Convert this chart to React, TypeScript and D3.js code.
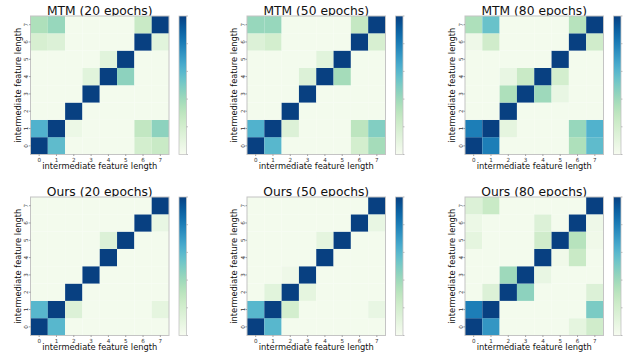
import React from "react";
import * as d3 from "d3";

// Attention-like 8x8 maps; each array is listed from feature length 0 (bottom row) up to 7 (top row).
const lengths = [0, 1, 2, 3, 4, 5, 6, 7];
const colorbarTicks = [0, 0.2, 0.4, 0.6, 0.8, 1.0];

const mtm20: number[][] = [
  [1.0, 0.58, 0.02, 0.02, 0.02, 0.02, 0.2, 0.25],
  [0.62, 1.0, 0.06, 0.02, 0.02, 0.02, 0.28, 0.45],
  [0.02, 0.02, 1.0, 0.02, 0.02, 0.02, 0.02, 0.02],
  [0.02, 0.02, 0.02, 1.0, 0.02, 0.02, 0.02, 0.02],
  [0.02, 0.02, 0.02, 0.12, 1.0, 0.45, 0.02, 0.02],
  [0.02, 0.02, 0.02, 0.02, 0.12, 1.0, 0.02, 0.02],
  [0.18, 0.15, 0.02, 0.02, 0.02, 0.02, 1.0, 0.12],
  [0.35, 0.42, 0.02, 0.02, 0.02, 0.02, 0.25, 1.0],
];

const mtm50: number[][] = [
  [1.0, 0.6, 0.02, 0.02, 0.02, 0.02, 0.2, 0.38],
  [0.62, 1.0, 0.15, 0.02, 0.02, 0.02, 0.3, 0.48],
  [0.02, 0.02, 1.0, 0.02, 0.02, 0.02, 0.02, 0.02],
  [0.02, 0.02, 0.02, 1.0, 0.02, 0.02, 0.02, 0.02],
  [0.02, 0.02, 0.02, 0.15, 1.0, 0.38, 0.02, 0.02],
  [0.02, 0.02, 0.02, 0.02, 0.12, 1.0, 0.02, 0.02],
  [0.15, 0.2, 0.02, 0.02, 0.02, 0.02, 1.0, 0.18],
  [0.42, 0.42, 0.02, 0.02, 0.02, 0.02, 0.27, 1.0],
];

const mtm80: number[][] = [
  [1.0, 0.8, 0.02, 0.02, 0.02, 0.02, 0.35, 0.58],
  [0.8, 1.0, 0.1, 0.02, 0.02, 0.02, 0.42, 0.62],
  [0.02, 0.02, 1.0, 0.02, 0.02, 0.02, 0.02, 0.02],
  [0.02, 0.02, 0.35, 1.0, 0.4, 0.08, 0.02, 0.02],
  [0.02, 0.02, 0.08, 0.25, 1.0, 0.2, 0.02, 0.02],
  [0.02, 0.02, 0.02, 0.02, 0.02, 1.0, 0.02, 0.02],
  [0.05, 0.22, 0.02, 0.02, 0.02, 0.02, 1.0, 0.22],
  [0.35, 0.55, 0.02, 0.02, 0.02, 0.02, 0.32, 1.0],
];

const ours20: number[][] = [
  [1.0, 0.6, 0.02, 0.02, 0.02, 0.02, 0.02, 0.02],
  [0.6, 1.0, 0.15, 0.02, 0.02, 0.02, 0.02, 0.1],
  [0.02, 0.02, 1.0, 0.02, 0.02, 0.02, 0.02, 0.02],
  [0.02, 0.02, 0.02, 1.0, 0.02, 0.02, 0.02, 0.02],
  [0.02, 0.02, 0.02, 0.02, 1.0, 0.02, 0.02, 0.02],
  [0.02, 0.02, 0.02, 0.02, 0.15, 1.0, 0.02, 0.02],
  [0.02, 0.02, 0.02, 0.02, 0.02, 0.02, 1.0, 0.08],
  [0.02, 0.02, 0.02, 0.02, 0.02, 0.02, 0.02, 1.0],
];

const ours50: number[][] = [
  [1.0, 0.6, 0.02, 0.02, 0.02, 0.02, 0.02, 0.02],
  [0.6, 1.0, 0.2, 0.02, 0.02, 0.02, 0.02, 0.08],
  [0.02, 0.12, 1.0, 0.1, 0.02, 0.02, 0.02, 0.02],
  [0.02, 0.02, 0.05, 1.0, 0.02, 0.02, 0.02, 0.02],
  [0.02, 0.02, 0.02, 0.02, 1.0, 0.02, 0.02, 0.02],
  [0.02, 0.02, 0.02, 0.02, 0.1, 1.0, 0.02, 0.02],
  [0.02, 0.02, 0.02, 0.02, 0.02, 0.02, 1.0, 0.08],
  [0.02, 0.02, 0.02, 0.02, 0.02, 0.02, 0.02, 1.0],
];

const ours80: number[][] = [
  [1.0, 0.72, 0.02, 0.02, 0.02, 0.02, 0.1, 0.22],
  [0.8, 1.0, 0.02, 0.02, 0.02, 0.02, 0.02, 0.5],
  [0.02, 0.15, 1.0, 0.45, 0.02, 0.02, 0.02, 0.15],
  [0.02, 0.02, 0.4, 1.0, 0.08, 0.02, 0.02, 0.02],
  [0.02, 0.02, 0.02, 0.02, 1.0, 0.04, 0.25, 0.02],
  [0.1, 0.02, 0.02, 0.02, 0.22, 1.0, 0.32, 0.04],
  [0.06, 0.02, 0.02, 0.02, 0.15, 0.02, 1.0, 0.05],
  [0.15, 0.25, 0.02, 0.02, 0.02, 0.02, 0.02, 1.0],
];

const titles = [
  "MTM (20 epochs)",
  "MTM (50 epochs)",
  "MTM (80 epochs)",
  "Ours (20 epochs)",
  "Ours (50 epochs)",
  "Ours (80 epochs)",
];
const matrices = [mtm20, mtm50, mtm80, ours20, ours50, ours80];
const axisLabel = "intermediate feature length";

const W = 625;
const H = 356;
const FONT = "DejaVu Sans, sans-serif";
const colLefts = [30.5, 247, 465];
const rowTops = [16, 197];
const SIZE = 138.5;
const CB_OFFSET = 148.5;
const CB_WIDTH = 7.5;
const SPINE = "#c4c4c4";

const color = d3.scaleSequential(d3.interpolateGnBu).domain([0, 1]);

function Panel({ left, top, title, data, idx }: { left: number; top: number; title: string; data: number[][]; idx: number }) {
  const x = d3.scaleBand<number>().domain(lengths).range([left, left + SIZE]);
  const y = d3.scaleBand<number>().domain(lengths).range([top + SIZE, top]);
  const cbX = left + CB_OFFSET;
  const cbY = d3.scaleLinear().domain([0, 1]).range([top + SIZE, top]);
  const gradId = `gnbu-${idx}`;
  const stops = d3.range(0, 1.0001, 0.05);

  return (
    <g>
      <defs>
        <linearGradient id={gradId} x1="0" y1="1" x2="0" y2="0">
          {stops.map((s) => (
            <stop key={s} offset={s} stopColor={color(s)} />
          ))}
        </linearGradient>
      </defs>
      <text
        x={left + SIZE / 2}
        y={top - 1.5}
        textAnchor="middle"
        fontFamily={FONT}
        fontSize={12.3}
        fill="#111"
      >
        {title}
      </text>
      {data.map((row, yi) =>
        row.map((v, xi) => (
          <rect
            key={`${xi}-${yi}`}
            x={x(xi)}
            y={y(yi)}
            width={x.bandwidth()}
            height={y.bandwidth()}
            fill={color(v)}
          />
        ))
      )}
      <rect x={left} y={top} width={SIZE} height={SIZE} fill="none" stroke={SPINE} strokeWidth={1} />
      {lengths.map((l) => {
        const cx = (x(l) as number) + x.bandwidth() / 2;
        return (
          <g key={`xt${l}`}>
            <line x1={cx} x2={cx} y1={top + SIZE} y2={top + SIZE + 1.5} stroke="#666" strokeWidth={0.6} />
            <text x={cx} y={top + SIZE + 7} textAnchor="middle" fontFamily={FONT} fontSize={5.6} fill="#333">
              {l}
            </text>
          </g>
        );
      })}
      {lengths.map((l) => {
        const cy = (y(l) as number) + y.bandwidth() / 2;
        return (
          <g key={`yt${l}`}>
            <line x1={left - 1.5} x2={left} y1={cy} y2={cy} stroke="#666" strokeWidth={0.6} />
            <text
              transform={`translate(${left - 2.5},${cy}) rotate(-90)`}
              textAnchor="middle"
              fontFamily={FONT}
              fontSize={5.6}
              fill="#333"
            >
              {l}
            </text>
          </g>
        );
      })}
      <text
        x={left + SIZE / 2}
        y={top + SIZE + 14.5}
        textAnchor="middle"
        fontFamily={FONT}
        fontSize={8.3}
        fill="#111"
      >
        {axisLabel}
      </text>
      <text
        transform={`translate(${left - 10},${top + SIZE / 2}) rotate(-90)`}
        textAnchor="middle"
        fontFamily={FONT}
        fontSize={8.3}
        fill="#111"
      >
        {axisLabel}
      </text>
      <rect x={cbX} y={top} width={CB_WIDTH} height={SIZE} fill={`url(#${gradId})`} stroke={SPINE} strokeWidth={0.8} />
      {colorbarTicks.map((t) => (
        <line
          key={`cb${t}`}
          x1={cbX + CB_WIDTH}
          x2={cbX + CB_WIDTH + 1.5}
          y1={cbY(t)}
          y2={cbY(t)}
          stroke="#999"
          strokeWidth={0.6}
        />
      ))}
    </g>
  );
}

export default function App() {
  return (
    <svg
      width={W}
      height={H}
      viewBox={`0 0 ${W} ${H}`}
      style={{ position: "absolute", left: 0, top: 0, background: "#fff" }}
    >
      <rect width={W} height={H} fill="#fff" />
      {matrices.map((m, i) => (
        <Panel
          key={i}
          idx={i}
          left={colLefts[i % 3]}
          top={rowTops[Math.floor(i / 3)]}
          title={titles[i]}
          data={m}
        />
      ))}
    </svg>
  );
}
